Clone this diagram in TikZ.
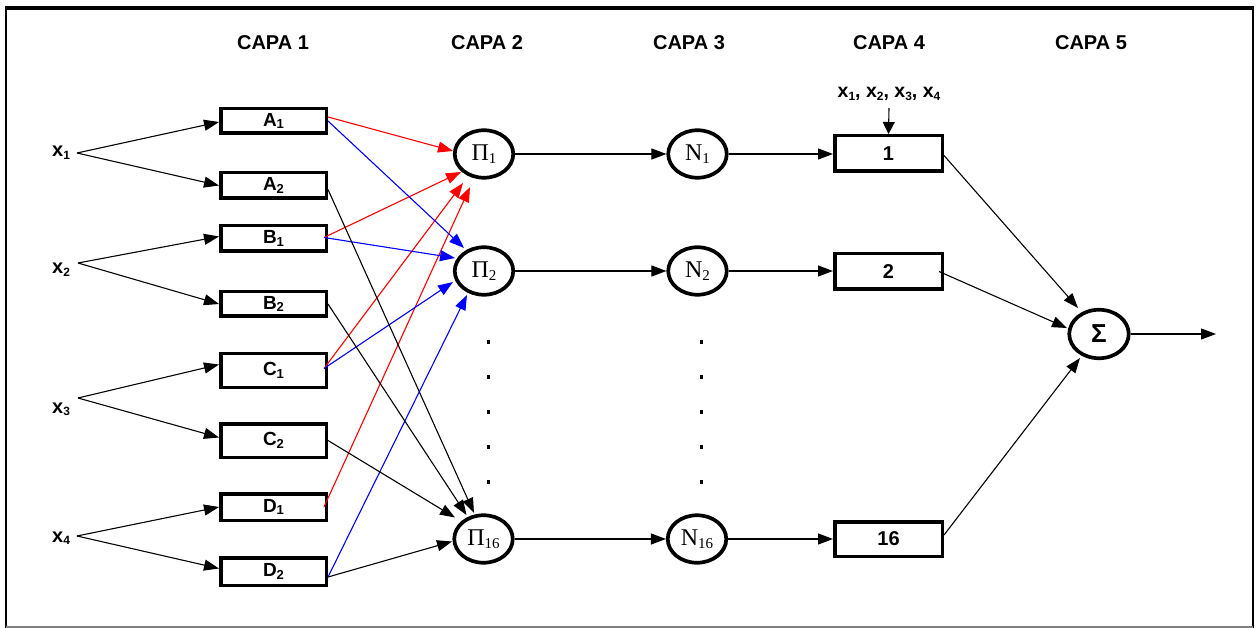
\documentclass[tikz,border=0pt]{standalone}
\usepackage{fontspec}
\setmainfont{Liberation Sans}
\newfontfamily\serifx{Liberation Serif}
\usetikzlibrary{arrows.meta,shapes.geometric}
\newcommand\bsub[1]{\raisebox{-2.5pt}{\fontsize{13}{13}\selectfont #1}}
\newcommand\xsub[1]{\raisebox{-2.5pt}{\fontsize{12}{12}\selectfont #1}}
\newcommand\tsub[1]{\raisebox{-3pt}{\fontsize{12}{12}\selectfont #1}}
\newcommand\psub[1]{\raisebox{-3pt}{\fontsize{15}{15}\selectfont #1}}
\tikzset{
  box/.style={draw, line width=3.5pt, minimum width=105.5pt, inner sep=0pt,
    font=\fontsize{19}{19}\selectfont\bfseries},
  boxr/.style={box, minimum width=107.5pt},
  ell/.style={draw, ellipse, line width=3.7pt, minimum width=58.5pt, minimum height=47.5pt,
    inner sep=0pt, font=\serifx\fontsize{24}{24}\selectfont},
  head/.style={anchor=base, font=\fontsize{20}{20}\selectfont\bfseries},
  xlab/.style={anchor=base west, inner sep=0pt, font=\fontsize{20}{20}\selectfont\bfseries},
  arr/.style={-{Triangle[length=15pt,width=11pt]}, line width=1.1pt},
  arrs/.style={-{Triangle[length=12pt,width=12pt]}, line width=1.1pt},
}
\begin{document}
\begin{tikzpicture}[x=1pt,y=-1pt]
\useasboundingbox (0,0) rectangle (1256,628);
% frame
\draw[line width=3.5pt] (5,8) -- (1254,8);
\draw[line width=2pt] (6,8) -- (6,628);
\draw[line width=1.2pt] (1253,8) -- (1253,628);
\draw[line width=1.2pt, gray] (6,627) -- (1253,627);
% headers
\node[head] (h1) at (273,50) {CAPA 1};
\node[head] (h2) at (487,50) {CAPA 2};
\node[head] (h3) at (689,50) {CAPA 3};
\node[head] (h4) at (889,50) {CAPA 4};
\node[head] (h5) at (1091,50) {CAPA 5};
% inputs
\node[xlab] (x1) at (52,157) {x\xsub1};
\node[xlab] (x2) at (52,274) {x\xsub2};
\node[xlab] (x3) at (52,413) {x\xsub3};
\node[xlab] (x4) at (52,542) {x\xsub4};
\coordinate (x1o) at (77,153);
\coordinate (x2o) at (78,263);
\coordinate (x3o) at (78,398);
\coordinate (x4o) at (77,536);
% layer 1
\node[box, minimum height=24.5pt] (A1) at (273.5,121) {A\bsub1};
\node[box, minimum height=25.5pt] (A2) at (273.5,185.5) {A\bsub2};
\node[box, minimum height=25.5pt] (B1) at (273.5,238.5) {B\bsub1};
\node[box, minimum height=24.5pt] (B2) at (273.5,304) {B\bsub2};
\node[box, minimum height=33.5pt] (C1) at (273.5,370.5) {C\bsub1};
\node[box, minimum height=33.5pt] (C2) at (273.5,440.5) {C\bsub2};
\node[box, minimum height=26.5pt] (D1) at (273.5,507) {D\bsub1};
\node[box, minimum height=27.5pt] (D2) at (273.5,571.5) {D\bsub2};
% layer 2 and 3
\node[ell] (P1) at (484,154) {Π\psub1};
\node[ell] (P2) at (484,271) {Π\psub2};
\node[ell] (P16) at (483.5,539) {Π\psub{16}};
\node[ell] (N1) at (697.5,154) {N\psub1};
\node[ell] (N2) at (697.5,271) {N\psub2};
\node[ell] (N16) at (697,539) {N\psub{16}};
% layer 4
\node[boxr, minimum height=35.5pt, font=\fontsize{20}{20}\selectfont\bfseries] (R1) at (888.5,153.5) {1};
\node[boxr, minimum height=35.5pt, font=\fontsize{20}{20}\selectfont\bfseries] (R2) at (888.5,271.5) {2};
\node[boxr, minimum height=34.5pt, font=\fontsize{20}{20}\selectfont\bfseries] (R16) at (888.5,539) {16};
\node[anchor=base, inner sep=0pt, font=\fontsize{19.5}{19.5}\selectfont\bfseries] (xs) at (889,98)
  {x\tsub1, x\tsub2, x\tsub3, x\tsub4};
\coordinate (xt) at (889,108);
% layer 5
\node[ell, minimum width=59.5pt, minimum height=48.5pt, font=\fontsize{26}{26}\selectfont\bfseries] (S) at (1099,334) {Σ};
\coordinate (out) at (1216,334);
% dots
\foreach \yy in {342,377,412,447,482} {
  \fill (486.5,\yy-1.7) rectangle ++(3.4,3.4);
  \fill (699.5,\yy-1.7) rectangle ++(3.4,3.4);
}
% input arrows
\draw[arr] (x1o) -- ([yshift=-1pt]A1.west);
\draw[arr] (x1o) -- (A2.west);
\draw[arr] (x2o) -- ([yshift=2pt]B1.west);
\draw[arr] (x2o) -- (B2.west);
\draw[arr] (x3o) -- ([yshift=6pt]C1.west);
\draw[arr] (x3o) -- ([yshift=3pt]C2.west);
\draw[arr] (x4o) -- (D1.west);
\draw[arr] (x4o) -- ([yshift=3pt]D2.west);
% red to P1
\draw[arr,red] ([yshift=4pt]A1.east) -- ([shift={(-31,-3)}]P1.center);
\draw[arr,red] ([xshift=-4pt,yshift=1pt]B1.east) -- ([shift={(-23,18)}]P1.center);
\draw[arr,red] ([xshift=-4pt,yshift=2pt]C1.east) -- ([shift={(-21,29)}]P1.center);
\draw[arr,red] ([xshift=-4pt]D1.east) -- ([shift={(-14,33)}]P1.center);
% blue to P2
\draw[arr,blue] (A1.east) -- ([shift={(-20,-23)}]P2.center);
\draw[arr,blue] ([xshift=-4pt,yshift=1pt]B1.east) -- ([shift={(-29,-13)}]P2.center);
\draw[arr,blue] ([xshift=-4pt,yshift=2pt]C1.east) -- ([shift={(-31,11)}]P2.center);
\draw[arr,blue] ([yshift=-5.5pt]D2.east) -- ([shift={(-17,24)}]P2.center);
% black to P16
\draw[arr] ([yshift=-4pt]A2.east) -- ([shift={(-9.5,-26)}]P16.center);
\draw[arr] (B2.east) -- ([shift={(-17,-24)}]P16.center);
\draw[arr] (C2.east) -- ([shift={(-28.5,-21.5)}]P16.center);
\draw[arr] ([yshift=-5.5pt]D2.east) -- ([shift={(-31.5,2.5)}]P16.center);
% layer 2 -> 3 -> 4
\draw[arr] (P1) -- (N1);
\draw[arr] (P2) -- (N2);
\draw[arr] (P16) -- (N16);
\draw[arr] (N1.east) -- (N1.east -| R1.west);
\draw[arr] (N2.east) -- (N2.east -| R2.west);
\draw[arr] (N16.east) -- (N16.east -| R16.west);
\draw[arrs] (xt) -- (R1.north);
% layer 4 -> 5
\draw[arr] ([yshift=-2pt]R1.east) -- ([shift={(-21,-26)}]S.center);
\draw[arr] ([xshift=-5pt]R2.east) -- ([shift={(-32,-6)}]S.center);
\draw[arr] ([yshift=4pt]R16.east) -- ([shift={(-19,24)}]S.center);
\draw[arr] (S) -- (out);
\end{tikzpicture}
\end{document}
